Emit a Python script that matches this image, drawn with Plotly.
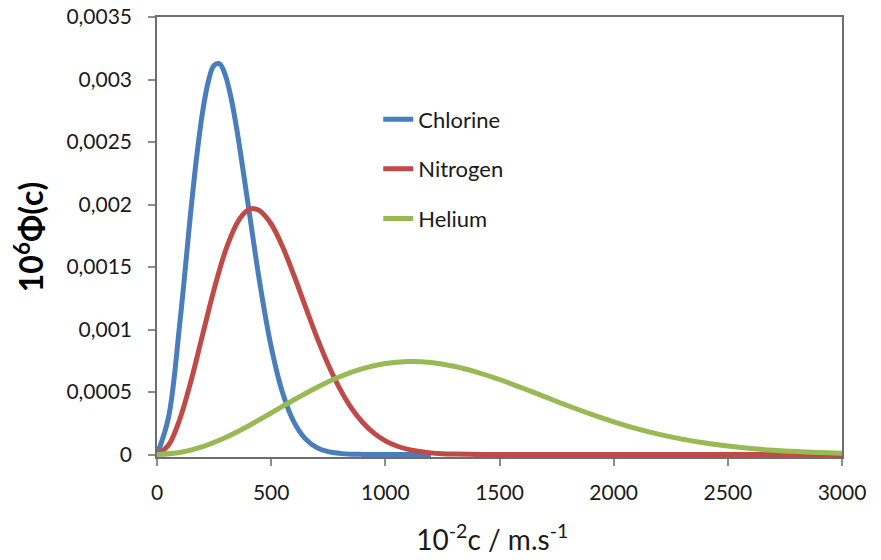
import plotly.graph_objects as go

# ---- data ----
chlorine_c = [0, 50, 100, 150, 175, 200, 225, 250, 275, 300, 325, 350, 400, 450,
              500, 550, 600, 650, 700, 750, 800, 850, 900, 950, 1000, 1050, 1100,
              1150, 1200]
chlorine_phi = [0, 0.000293, 0.001052, 0.001981, 0.002401, 0.002744, 0.002986,
                0.003113, 0.003124, 0.003030, 0.002847, 0.002596, 0.001988,
                0.001374, 0.000862, 0.000494, 0.000259, 0.000125, 0.000055,
                0.000023, 0.000009, 0.000003, 0.000001, 0, 0, 0, 0, 0, 0]

nitrogen_c = [0, 50, 100, 150, 200, 250, 300, 350, 375, 400, 425, 450, 500, 550,
              600, 650, 700, 750, 800, 850, 900, 950, 1000, 1050, 1100, 1150,
              1200, 1250, 1300, 1400, 1500, 1600, 1700, 1800, 1900, 2000, 2100,
              2200, 2300, 2400, 2500, 2600, 2700, 2800, 2900, 3000]
nitrogen_phi = [0, 0.000074, 0.000284, 0.000596, 0.000960, 0.001321, 0.001631,
                0.001849, 0.001917, 0.001956, 0.001967, 0.001950, 0.001844,
                0.001662, 0.001432, 0.001183, 0.000939, 0.000718, 0.000529,
                0.000375, 0.000258, 0.000171, 0.000109, 0.000068, 0.000041,
                0.000024, 0.000013, 0.000007, 0.000004, 0.000001, 0, 0, 0, 0,
                0, 0, 0, 0, 0, 0, 0, 0, 0, 0, 0, 0]

helium_c = [0, 100, 200, 300, 400, 500, 600, 700, 800, 900, 1000, 1100, 1200,
            1300, 1400, 1500, 1600, 1700, 1800, 1900, 2000, 2100, 2200, 2300,
            2400, 2500, 2600, 2700, 2800, 2900, 3000]
helium_phi = [0, 0.0000161, 0.0000629, 0.0001359, 0.0002285, 0.0003321,
              0.0004378, 0.0005368, 0.0006216, 0.0006863, 0.0007274, 0.0007436,
              0.0007357, 0.0007064, 0.0006596, 0.0005999, 0.0005322, 0.0004609,
              0.0003901, 0.0003231, 0.0002616, 0.0002076, 0.0001613, 0.0001228,
              0.0000917, 0.0000672, 0.0000482, 0.0000340, 0.0000235, 0.0000159,
              0.0000106]

series_names = ["Chlorine", "Nitrogen", "Helium"]

x_tick_vals = [0, 500, 1000, 1500, 2000, 2500, 3000]
x_tick_text = ["0", "500", "1000", "1500", "2000", "2500", "3000"]
y_tick_vals = [0, 0.0005, 0.001, 0.0015, 0.002, 0.0025, 0.003, 0.0035]
y_tick_text = ["0", "0,0005", "0,001", "0,0015", "0,002", "0,0025", "0,003", "0,0035"]

x_range = [0, 3000]
y_range = [-0.00002, 0.0035]

colors = ["#4A7EBB", "#BE4B48", "#98B954"]
axis_gray = "#8C8C8C"
font_family = "Lato, 'Open Sans', sans-serif"

fig = go.Figure()
for name, xs, ys, col in zip(series_names,
                             [chlorine_c, nitrogen_c, helium_c],
                             [chlorine_phi, nitrogen_phi, helium_phi],
                             colors):
    fig.add_trace(go.Scatter(
        x=xs, y=ys, name=name, mode="lines", legendgroup=name,
        line=dict(color=col, width=5, shape="spline", smoothing=1.0),
    ))

fig.update_layout(
    width=873, height=552, autosize=False,
    margin=dict(l=149, r=39, t=9, b=103, pad=0),
    paper_bgcolor="white", plot_bgcolor="white",
    font=dict(family=font_family, color="#1a1a1a"),
    showlegend=True,
    legend=dict(
        x=0.323, y=0.815, xanchor="left", yanchor="top",
        font=dict(size=22, family=font_family, color="#1a1a1a"),
        bgcolor="rgba(0,0,0,0)", borderwidth=0,
        tracegroupgap=18,
    ),
    xaxis=dict(
        range=x_range, tickmode="array", tickvals=x_tick_vals, ticktext=x_tick_text,
        ticks="outside", ticklen=7, tickwidth=1.5, tickcolor=axis_gray,
        showline=True, linecolor="#6E6E6E", linewidth=1.5, mirror=True,
        showgrid=False, zeroline=False, automargin=False,
        tickfont=dict(size=21, family=font_family, color="#1a1a1a"),
        ticklabelstandoff=9, ticklabeloverflow="allow",
        title=dict(text="10<sup>-2</sup>c / m.s<sup>-1</sup>&nbsp;&nbsp;",
                   font=dict(size=28, family=font_family, color="#1a1a1a"),
                   standoff=27),
    ),
    yaxis=dict(
        range=y_range, tickmode="array", tickvals=y_tick_vals, ticktext=y_tick_text,
        ticks="outside", ticklen=7, tickwidth=1.5, tickcolor=axis_gray,
        showline=True, linecolor="#6E6E6E", linewidth=1.5, mirror=True,
        showgrid=False, zeroline=False, automargin=False,
        tickfont=dict(size=21, family=font_family, color="#1a1a1a"),
        ticklabelstandoff=12, ticklabeloverflow="allow",
        title=dict(text="<b>10<sup>6</sup>Φ(c)</b>",
                   font=dict(size=32, family=font_family, color="#000000"),
                   standoff=14),
    ),
)

fig.write_html("out.html")
